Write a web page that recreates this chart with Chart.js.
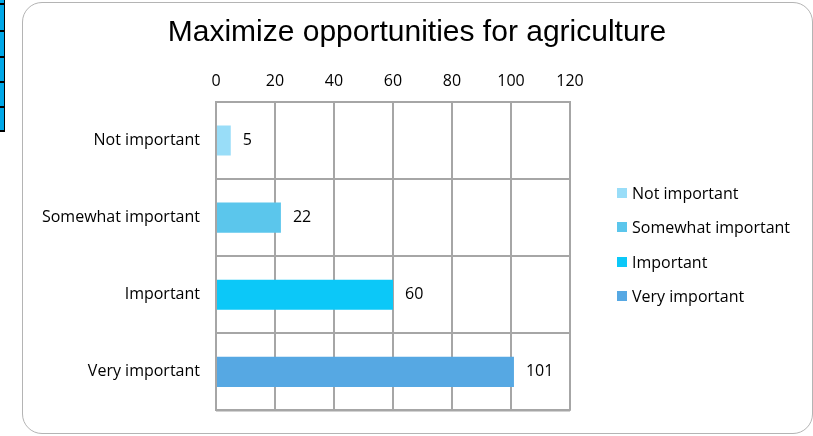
<!DOCTYPE html>
<html>
<head>
<meta charset="utf-8">
<script src="https://cdn.jsdelivr.net/npm/chart.js@4.4.1/dist/chart.umd.min.js"></script>
<style>
  html, body { margin: 0; padding: 0; background: #ffffff; overflow: hidden; }
  #wrap { position: relative; width: 813px; height: 436px; }
  #frame { position: absolute; left: 22px; top: 2px; width: 791px; height: 432px;
           border: 1px solid #b4b4b4; border-radius: 20px; box-sizing: border-box; }
  #side { position: absolute; left: 0; top: 0; width: 4px; height: 131px; background: #00a8e8;
          border-right: 1px solid #000; }
  .sl { position: absolute; left: 0; width: 5px; height: 2px; background: #000; }
  canvas { position: absolute; left: 0; top: 0; }
  #legend { position: absolute; left: 617px; top: 183px; font-family: 'Open Sans', sans-serif;
            font-size: 16px; color: #000; }
  .li { height: 34.3px; display: flex; align-items: flex-start; white-space: nowrap; }
  .sw { width: 10px; height: 10px; margin-top: 5px; margin-right: 5px; flex: none; }
  .lt { line-height: 20px; }
</style>
</head>
<body>
<div id="wrap">
  <div id="side"></div>
  <div class="sl" style="top:3px"></div>
  <div class="sl" style="top:30px"></div>
  <div class="sl" style="top:56px"></div>
  <div class="sl" style="top:81px"></div>
  <div class="sl" style="top:106px"></div>
  <div class="sl" style="top:130px"></div>
  <div id="frame"></div>
  <canvas id="c" width="813" height="436"></canvas>
  <div id="legend"></div>
</div>
<script>
const chartTitle = "Maximize opportunities for agriculture";
const categories = ["Not important", "Somewhat important", "Important", "Very important"];
const values = [5, 22, 60, 101];
const barColors = ["#99DDF8", "#5BC6EC", "#0CC8F8", "#56A8E3"];
const xTicks = [0, 20, 40, 60, 80, 100, 120];

const labelFont = { family: "'Open Sans', sans-serif", size: 16 };

// HTML legend built from the same arrays
const legendEl = document.getElementById('legend');
categories.forEach((c, i) => {
  const row = document.createElement('div');
  row.className = 'li';
  const sw = document.createElement('span');
  sw.className = 'sw';
  sw.style.background = barColors[i];
  const t = document.createElement('span');
  t.className = 'lt';
  t.textContent = c;
  row.appendChild(sw); row.appendChild(t);
  legendEl.appendChild(row);
});

const valueLabels = {
  id: 'valueLabels',
  afterDatasetsDraw(chart) {
    const ctx = chart.ctx;
    const meta = chart.getDatasetMeta(0);
    ctx.save();
    ctx.font = "16px 'Open Sans', sans-serif";
    ctx.fillStyle = "#000";
    ctx.textAlign = "left";
    ctx.textBaseline = "middle";
    meta.data.forEach((bar, i) => {
      ctx.fillText(String(values[i]), bar.x + 12, bar.y);
    });
    ctx.restore();
  }
};

new Chart(document.getElementById('c'), {
  type: 'bar',
  data: {
    labels: categories,
    datasets: [{
      data: values,
      backgroundColor: barColors,
      borderWidth: 0,
      categoryPercentage: 1,
      barPercentage: 0.39
    }]
  },
  options: {
    indexAxis: 'y',
    responsive: false,
    animation: false,
    layout: { padding: { left: 21, right: 0, top: 0, bottom: 22 } },
    plugins: {
      title: {
        display: true,
        text: chartTitle,
        color: "#000",
        font: { family: "'Liberation Sans', Arial, sans-serif", size: 30, weight: 'normal', lineHeight: 1.2 },
        padding: { top: 15, bottom: 10 }
      },
      legend: { display: false },
      tooltip: { enabled: false }
    },
    scales: {
      x: {
        position: 'top',
        min: 0,
        max: 120,
        afterBuildTicks(scale) { scale.ticks = xTicks.map(v => ({ value: v })); },
        ticks: { color: "#000", font: labelFont, padding: 11 },
        grid: { color: "#a6a6a6", lineWidth: 2, drawTicks: false },
        border: { color: "#a6a6a6", width: 2 },
        afterFit(scale) { scale.height = 41; }
      },
      y: {
        ticks: { color: "#000", font: labelFont, padding: 16 },
        grid: { color: "#a6a6a6", lineWidth: 2, drawTicks: false, offset: true },
        border: { color: "#a6a6a6", width: 2 },
        afterFit(scale) { scale.width = 195; }
      },
      legendSpace: {
        type: 'linear',
        position: 'right',
        display: true,
        grid: { display: false, drawTicks: false },
        border: { display: false },
        ticks: { display: false },
        afterFit(scale) { scale.width = 243; }
      }
    }
  },
  plugins: [valueLabels, {
    id: 'rightBorder',
    afterDatasetsDraw(chart) {
      const a = chart.chartArea, ctx = chart.ctx;
      ctx.save();
      ctx.strokeStyle = "#a6a6a6"; ctx.lineWidth = 2;
      ctx.beginPath();
      ctx.moveTo(a.right, a.top); ctx.lineTo(a.right, a.bottom);
      ctx.moveTo(a.left, a.bottom); ctx.lineTo(a.right, a.bottom);
      ctx.stroke();
      ctx.restore();
    }
  }]
});
</script>
</body>
</html>
